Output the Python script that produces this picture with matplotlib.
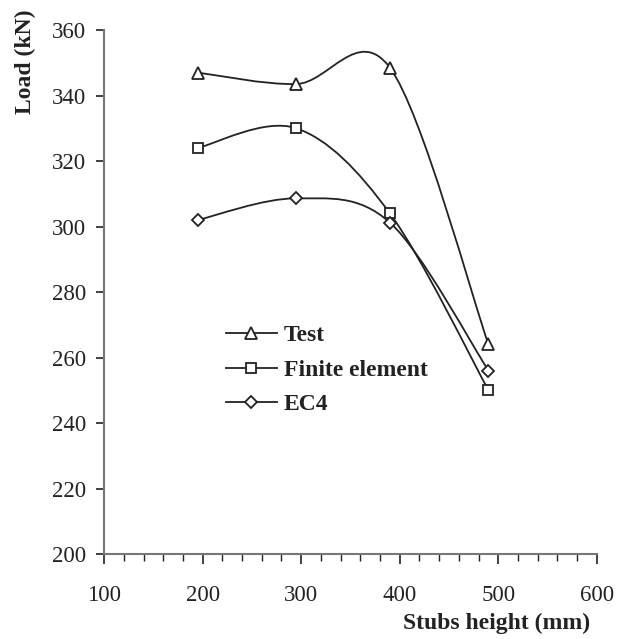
import matplotlib
matplotlib.use("Agg")
import matplotlib.pyplot as plt
from matplotlib.path import Path
from matplotlib.patches import PathPatch
from matplotlib.lines import Line2D
from matplotlib.ticker import MultipleLocator

plt.rcParams['font.family'] = ['Liberation Serif', 'DejaVu Serif']

stub_height = [195, 295, 390, 490]
test_load = [347, 343.5, 348.5, 264]
fe_load = [324, 330, 304, 250]
ec4_load = [302, 308.6, 301.2, 256]

series = [
    ("Test", test_load, "^"),
    ("Finite element", fe_load, "s"),
    ("EC4", ec4_load, "D"),
]

ink = "#222222"

fig = plt.figure(figsize=(6.27, 6.39), dpi=100)
ax = fig.add_axes([0.166, 0.133, 0.786, 0.820])


def smooth_path(xs, ys):
    # Bezier smoothing (spreadsheet-style) through the data points
    n = len(xs)
    verts = [(xs[0], ys[0])]
    codes = [Path.MOVETO]
    for i in range(n - 1):
        x0, y0 = (xs[i - 1], ys[i - 1]) if i > 0 else (xs[i], ys[i])
        x1, y1 = xs[i], ys[i]
        x2, y2 = xs[i + 1], ys[i + 1]
        x3, y3 = (xs[i + 2], ys[i + 2]) if i + 2 < n else (xs[i + 1], ys[i + 1])
        c1 = (x1 + (x2 - x0) / 6.0, y1 + (y2 - y0) / 6.0)
        c2 = (x2 - (x3 - x1) / 6.0, y2 - (y3 - y1) / 6.0)
        verts += [c1, c2, (x2, y2)]
        codes += [Path.CURVE4] * 3
    return Path(verts, codes)


handles = []
for label, ys, mk in series:
    ax.add_patch(PathPatch(smooth_path(stub_height, ys), fill=False,
                           edgecolor=ink, lw=1.3, zorder=2))
    ms = 8 if mk == "^" else (7 if mk == "s" else 6.5)
    ax.plot(stub_height, ys, linestyle="none", marker=mk, ms=ms,
            mfc="white", mec=ink, mew=1.3, zorder=3)
    handles.append(Line2D([], [], color=ink, lw=1.3, marker=mk, ms=ms,
                          mfc="white", mec=ink, mew=1.3, label=label))

ax.set_xlim(100, 600)
ax.set_ylim(200, 360)
ax.xaxis.set_major_locator(MultipleLocator(100))
ax.xaxis.set_minor_locator(MultipleLocator(20))
ax.yaxis.set_major_locator(MultipleLocator(20))

for s in ("top", "right"):
    ax.spines[s].set_visible(False)
for s in ("left", "bottom"):
    ax.spines[s].set_color("#777777")
    ax.spines[s].set_linewidth(1.5)

ax.tick_params(axis="x", which="major", direction="out", length=7,
               width=1.2, color=ink, labelsize=16.5, labelcolor=ink, pad=15)
ax.tick_params(axis="x", which="minor", direction="out", length=5,
               width=1.0, color=ink)
ax.tick_params(axis="y", which="major", direction="out", length=6,
               width=1.2, color=ink, labelsize=16.5, labelcolor=ink, pad=7)

leg = ax.legend(handles=handles, loc="upper left",
                bbox_to_anchor=(0.204, 0.478), frameon=False,
                prop={"weight": "bold", "size": 17}, handlelength=2.15,
                handletextpad=0.3, labelspacing=0.55)
for t in leg.get_texts():
    t.set_color(ink)

fig.text(25 / 627, 1 - 62 / 639, "Load (kN)", rotation=90, ha="center",
         va="center", fontsize=17, fontweight="bold", color=ink)
fig.text(590 / 627, 1 - 623 / 639, "Stubs height (mm)", ha="right",
         va="center", fontsize=17, fontweight="bold", color=ink)

fig.savefig("out.png", dpi=100)
